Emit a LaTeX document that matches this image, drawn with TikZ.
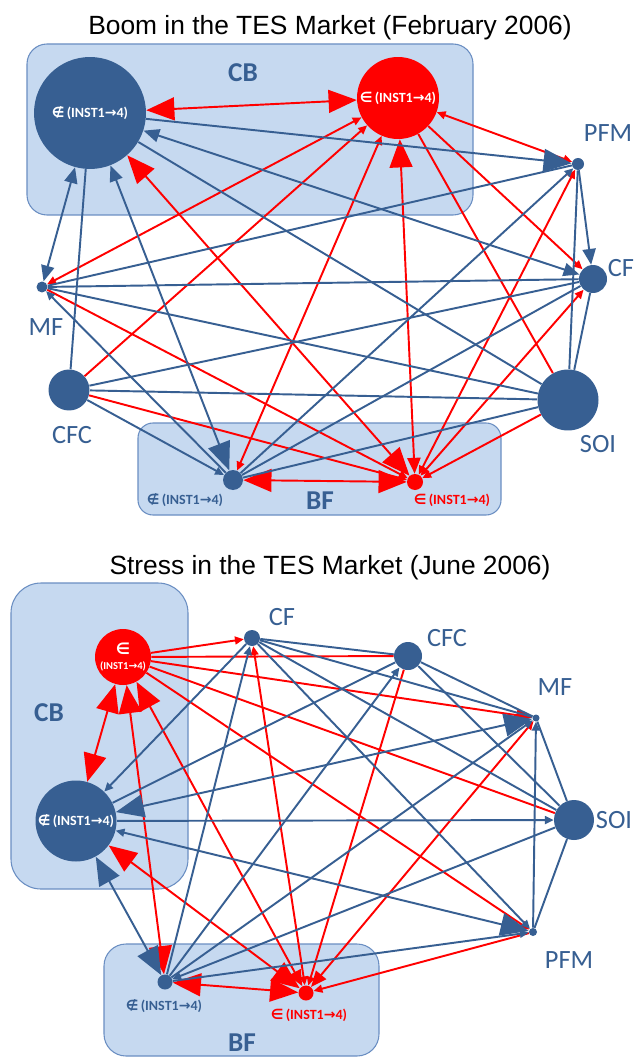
\documentclass[tikz,border=0pt]{standalone}
\usepackage{fontspec}
\setmainfont{Carlito}
\newfontfamily\titlefont{Liberation Sans}
\newfontfamily\symfont{DejaVu Sans}
\usetikzlibrary{arrows.meta, positioning}
\definecolor{TesBlue}{HTML}{375F92}
\definecolor{TesRed}{HTML}{FF0000}
\definecolor{BoxFill}{HTML}{C6D9F0}
\definecolor{BoxLine}{HTML}{6A8EC2}
\newcommand{\outinst}{{\symfont ∉}\,(INST1{\symfont →}4)}
\newcommand{\ininst}{{\symfont ∈}\,(INST1{\symfont →}4)}
\tikzset{
  sm/.tip={Triangle[length=5pt,width=4.5pt]},
  md/.tip={Triangle[length=9pt,width=7.5pt]},
  bg/.tip={Triangle[length=16pt,width=13pt]},
  bl/.style={draw=TesBlue, line width=1.1pt},
  rd/.style={draw=TesRed, line width=1.1pt},
  grp/.style={fill=BoxFill, draw=BoxLine, line width=0.6pt},
  agent/.style={circle, fill=TesBlue, inner sep=0pt},
  redagent/.style={circle, fill=TesRed, inner sep=0pt},
  lbl/.style={text=TesBlue, font=\fontsize{15}{18}\selectfont},
  grplbl/.style={text=TesBlue, font=\fontsize{15.5}{18}\selectfont\bfseries},
  inlbl/.style={text=white, font=\fontsize{8}{9}\selectfont\bfseries},
  instlbl/.style={font=\fontsize{8}{9}\selectfont\bfseries},
  heading/.style={font=\titlefont\fontsize{15}{18}\selectfont}
}

\begin{document}
\begin{tikzpicture}[x=0.02cm, y=-0.02cm]
    \fill[white] (0,0) rectangle (637,1057);
    \useasboundingbox (0,0) rectangle (637,1057);

    % Boom (February 2006)
    \node[heading] (titleA) at (330,28) {Boom in the TES Market (February 2006)};
    \draw[grp, rounded corners=0.4cm] (27,44) rectangle (473,215);
    \draw[grp, rounded corners=0.3cm] (138,423) rectangle (501,515);
    \node[grplbl] (cbA) at (243,73) {CB};
    \node[grplbl] (bfA) at (320,501) {BF};

    \node[agent, minimum size=2.24cm, inlbl] (cboA) at (90,113) {\outinst};
    \node[redagent, minimum size=1.64cm, inlbl] (cbiA) at (398,98) {\ininst};
    \node[agent, minimum size=0.24cm] (pfmA) at (578,164) {};
    \node[agent, minimum size=0.56cm] (cfA) at (593,279) {};
    \node[agent, minimum size=0.22cm] (mfA) at (42,287) {};
    \node[agent, minimum size=0.82cm] (cfcA) at (69,390) {};
    \node[agent, minimum size=1.22cm] (soiA) at (568,400) {};
    \node[agent, minimum size=0.40cm] (bfoA) at (233,480) {};
    \node[redagent, minimum size=0.32cm] (bfiA) at (415,482) {};

    \node[lbl] at (608,133) {PFM};
    \node[lbl] at (621,268) {CF};
    \node[lbl] at (46,327) {MF};
    \node[lbl] at (72,435) {CFC};
    \node[lbl] at (598,444) {SOI};
    \node[instlbl, text=TesBlue] at (185,500) {\outinst};
    \node[instlbl, text=TesRed] at (452,500) {\ininst};

    \draw[rd, bg-bg] (cboA) -- (cbiA);
    \draw[rd, sm-sm] (cbiA) -- (pfmA);
    \draw[rd, -sm] (cbiA) -- (cfA);
    \draw[rd, sm-sm] (cbiA) -- (mfA);
    \draw[rd, sm-] (cbiA) -- (cfcA);
    \draw[rd] (cbiA) -- (soiA);
    \draw[rd, sm-sm] (cbiA) -- (bfoA);
    \draw[rd, bg-md] (cbiA) -- (bfiA);
    \draw[rd, bg-bg] (cboA) -- (bfiA);
    \draw[rd, bg-bg] (bfoA) -- (bfiA);
    \draw[rd, sm-sm] (pfmA) -- (bfiA);
    \draw[rd, sm-sm] (cfA) -- (bfiA);
    \draw[rd, -sm] (mfA) -- (bfiA);
    \draw[rd, -sm] (cfcA) -- (bfiA);
    \draw[rd, -sm] (soiA) -- (bfiA);

    \draw[bl, -bg] (cboA) -- (pfmA);
    \draw[bl, md-md] (cboA) -- (cfA);
    \draw[bl, md-md] (cboA) -- (mfA);
    \draw[bl, md-bg] (cboA) -- (bfoA);
    \draw[bl, -md] (pfmA) -- (cfA);
    \draw[bl, sm-] (pfmA) -- (bfoA);
    \draw[bl, sm-] (mfA) -- (bfoA);
    \draw[bl, -sm] (cfcA) -- (bfoA);
    \foreach \a/\b in {cboA/cfcA, cboA/soiA, pfmA/mfA, pfmA/soiA, cfA/mfA,
                       cfA/cfcA, cfA/soiA, cfA/bfoA, mfA/soiA, cfcA/soiA, soiA/bfoA}
        \draw[bl] (\a) -- (\b);

    % Stress (June 2006)
    \node[heading] (titleB) at (330,568) {Stress in the TES Market (June 2006)};
    \draw[grp, rounded corners=0.6cm] (11,583) rectangle (188,889);
    \draw[grp, rounded corners=0.44cm] (104,944) rectangle (379,1056);
    \node[grplbl] (cbB) at (49,713) {CB};
    \node[grplbl] (bfB) at (242,1043) {BF};

    \node[redagent, minimum size=1.12cm, inlbl, align=center] (cbiB) at (123,657)
        {{\symfont\fontsize{9}{9}\selectfont ∈}\\[-1pt]{\fontsize{6}{7}\selectfont(INST1{\symfont →}4)}};
    \node[agent, minimum size=1.62cm, inlbl] (cboB) at (76,821) {\outinst};
    \node[agent, minimum size=0.32cm] (cfB) at (252,638) {};
    \node[agent, minimum size=0.56cm] (cfcB) at (408,656) {};
    \node[agent, minimum size=0.14cm] (mfB) at (536,718) {};
    \node[agent, minimum size=0.80cm] (soiB) at (574,820) {};
    \node[agent, minimum size=0.16cm] (pfmB) at (533,932) {};
    \node[agent, minimum size=0.30cm] (bfoB) at (165,982) {};
    \node[redagent, minimum size=0.30cm] (bfiB) at (306,993) {};

    \node[lbl] at (282,617) {CF};
    \node[lbl] at (447,638) {CFC};
    \node[lbl] at (555,687) {MF};
    \node[lbl] at (614,820) {SOI};
    \node[lbl] at (569,960) {PFM};
    \node[instlbl, text=TesBlue] at (164,1006) {\outinst};
    \node[instlbl, text=TesRed] at (309,1015) {\ininst};

    \draw[rd, -sm] (cbiB) -- (cfB);
    \draw[rd] (cbiB) -- (cfcB);
    \draw[rd, -md] (cbiB) -- (mfB);
    \draw[rd] (cbiB) -- (soiB);
    \draw[rd, -sm] (cbiB) -- (pfmB);
    \draw[rd, bg-bg] (cbiB) -- (cboB);
    \draw[rd, bg-bg] (cbiB) -- (bfoB);
    \draw[rd, bg-md] (cbiB) -- (bfiB);
    \draw[rd, bg-bg] (bfoB) -- (bfiB);
    \draw[rd, bg-bg] (cboB) -- (bfiB);
    \draw[rd, sm-sm] (cfB) -- (bfiB);
    \draw[rd, -sm] (cfcB) -- (bfiB);
    \draw[rd, sm-md] (mfB) -- (bfiB);
    \draw[rd, -sm] (pfmB) -- (bfiB);

    \draw[bl, bg-bg] (cboB) -- (bfoB);
    \draw[bl, -sm] (cboB) -- (soiB);
    \draw[bl, sm-bg] (cboB) -- (pfmB);
    \draw[bl, bg-bg] (cboB) -- (mfB);
    \draw[bl, -sm] (cfB) -- (cboB);
    \draw[bl, -sm] (cfB) -- (pfmB);
    \draw[bl, sm-] (cfB) -- (bfoB);
    \draw[bl, sm-] (cfcB) -- (bfoB);
    \draw[bl, sm-] (mfB) -- (pfmB);
    \draw[bl, sm-] (mfB) -- (bfoB);
    \draw[bl, -sm] (soiB) -- (bfoB);
    \draw[bl, -sm] (bfoB) -- (pfmB);
    \foreach \a/\b in {cfcB/cboB, cfB/cfcB, cfB/mfB, cfB/soiB, cfcB/mfB,
                       cfcB/soiB, mfB/soiB, soiB/pfmB}
        \draw[bl] (\a) -- (\b);
\end{tikzpicture}
\end{document}
